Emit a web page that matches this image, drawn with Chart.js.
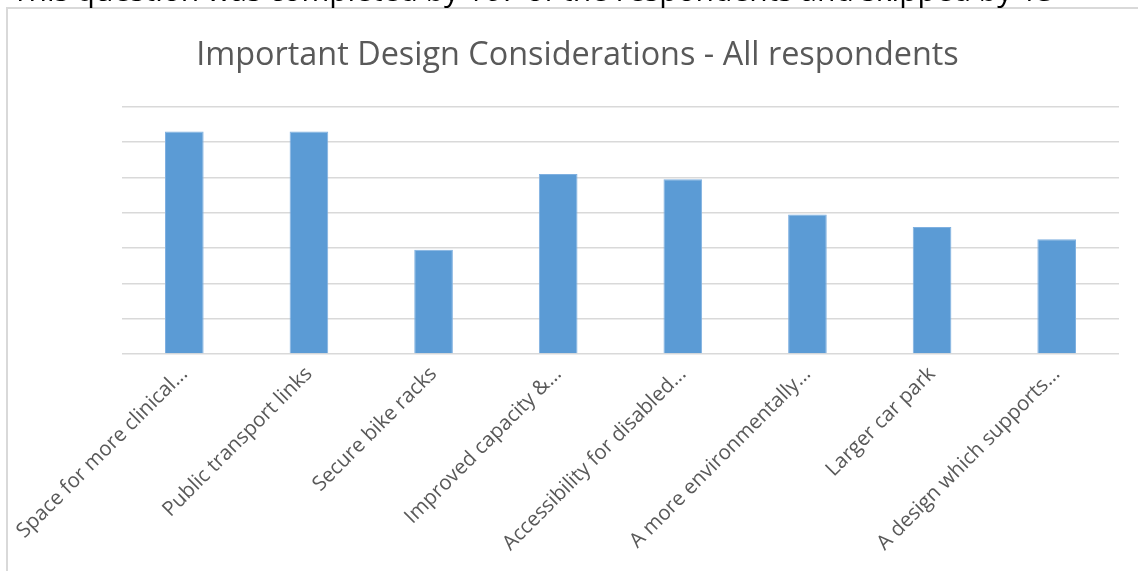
<!DOCTYPE html>
<html>
<head>
<meta charset="utf-8">
<script src="https://cdn.jsdelivr.net/npm/chart.js@4/dist/chart.umd.min.js"></script>
<style>
  html, body { margin: 0; padding: 0; background: #ffffff; overflow: hidden; width: 1138px; height: 571px; }
  #note { position: absolute; left: 12px; top: -25px; font-family: "Open Sans", sans-serif; font-size: 30px; line-height: 30px; color: #000; white-space: nowrap; z-index: 2; }
  #box { position: absolute; left: 6px; top: 7px; width: 1132px; height: 564px; border-left: 2px solid #d9d9d9; border-top: 2px solid #d9d9d9; background: #fff; }
  #c { position: absolute; left: 0; top: 0; }
</style>
</head>
<body>
<div id="note">This question was completed by 167 of the respondents and skipped by 13</div>
<div id="box"><canvas id="c" width="1130" height="562"></canvas></div>
<script>
const categories = [
  "Space for more clinical...",
  "Public transport links",
  "Secure bike racks",
  "Improved capacity &...",
  "Accessibility for disabled...",
  "A more environmentally...",
  "Larger car park",
  "A design which supports..."
];
const seriesValues = [126, 126, 59, 102, 99, 79, 72, 65];
const titleText = "Important Design Considerations - All respondents";
const yTickValues = [0, 20, 40, 60, 80, 100, 120, 140];

new Chart(document.getElementById('c'), {
  type: 'bar',
  data: {
    labels: categories,
    datasets: [{
      data: seriesValues,
      backgroundColor: '#5b9bd5',
      borderColor: '#7fb0e0',
      borderWidth: 1,
      categoryPercentage: 1,
      barPercentage: 0.31
    }]
  },
  options: {
    responsive: false,
    animation: false,
    layout: { padding: { left: 28, right: 19, top: 0, bottom: 0 } },
    plugins: {
      legend: { display: false },
      tooltip: { enabled: false },
      title: {
        display: true,
        text: titleText,
        color: '#595959',
        font: { family: 'Open Sans', size: 32.4, weight: 'normal' },
        padding: { top: 27, bottom: 32 }
      }
    },
    scales: {
      x: {
        grid: { display: false, drawTicks: false },
        border: { display: false },
        ticks: {
          color: '#595959',
          font: { family: 'Open Sans', size: 20.5 },
          minRotation: 45,
          maxRotation: 45,
          autoSkip: false,
          padding: 8
        },
        afterFit: (s) => { s.height = 217; s.paddingLeft = 0; s.paddingRight = 0; }
      },
      y: {
        min: yTickValues[0],
        max: yTickValues[yTickValues.length - 1],
        afterBuildTicks: (s) => { s.ticks = yTickValues.map(v => ({ value: v })); },
        grid: { color: '#d9d9d9', lineWidth: 1.5, drawTicks: false },
        border: { display: false },
        ticks: { display: false },
        afterFit: (s) => { s.width = 86; }
      }
    }
  }
});
</script>
</body>
</html>
